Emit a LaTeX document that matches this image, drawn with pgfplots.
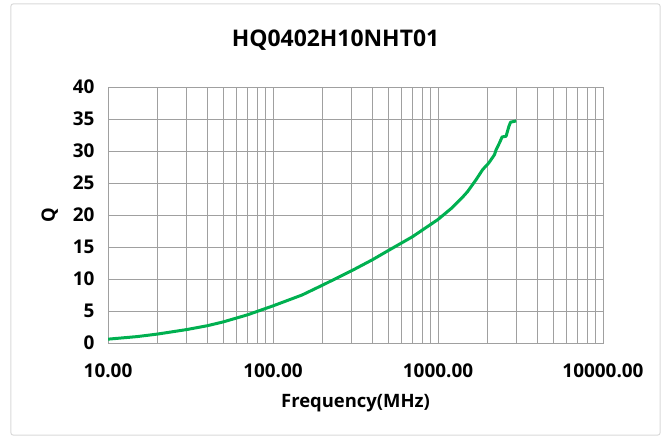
\documentclass[border=0pt]{standalone}
\usepackage{pgfplots}
\pgfplotsset{compat=1.18}
\usepackage{fontspec}
\setmainfont{Open Sans}
\definecolor{exgreen}{RGB}{0,176,80}
\definecolor{gridgray}{RGB}{160,160,160}
\definecolor{framegray}{RGB}{217,217,217}
\begin{document}
\begin{tikzpicture}
\useasboundingbox (-108bp,-93bp) rectangle (561bp,343bp);
\draw[framegray, line width=1bp, rounded corners=2bp] (-97bp,-92bp) rectangle (552bp,339bp);
\begin{axis}[
  at={(0,0)}, anchor=south west,
  scale only axis,
  width=495bp, height=256bp,
  xmode=log, log basis x=10,
  xmin=10, xmax=10000,
  ymin=0, ymax=40,
  xtick={10,100,1000,10000},
  xticklabels={10.00,100.00,1000.00,10000.00},
  minor xtick={20,30,40,50,60,70,80,90,200,300,400,500,600,700,800,900,2000,3000,4000,5000,6000,7000,8000,9000},
  ytick={0,5,10,15,20,25,30,35,40},
  grid=both,
  major grid style={gridgray, line width=0.9bp},
  minor grid style={gridgray, line width=0.9bp},
  axis line style={gridgray, line width=0.9bp},
  tick style={draw=none},
  /pgf/number format/assume math mode=true,
  ticklabel style={font=\fontsize{19}{22}\selectfont\bfseries},
  xticklabel style={yshift=-17bp},
  yticklabel style={xshift=-10bp},
  xlabel={Frequency(MHz)},
  ylabel={Q},
  label style={font=\fontsize{18.5}{22}\selectfont\bfseries},
  xlabel style={yshift=-10bp},
  ylabel style={yshift=8bp},
]
\addplot[exgreen, line width=3bp, line join=round] coordinates {
(10,0.6) (15,1.0) (20,1.4) (30,2.1) (40,2.7) (50,3.3) (70,4.4) (100,5.8)
(150,7.5) (200,9.05) (300,11.3) (400,13.0) (500,14.45) (700,16.6)
(1000,19.3) (1200,21.0) (1400,22.7) (1510,23.65) (1700,25.5) (1866,27.1)
(2027,28.1) (2197,29.4) (2250,30.2) (2301,30.7) (2377,31.45) (2445,32.2)
(2586,32.3) (2686,33.8) (2752,34.5) (2978,34.7)
};
\end{axis}
\node[font=\fontsize{23}{27}\selectfont\bfseries] at (227.5bp,303bp) {HQ0402H10NHT01};
\end{tikzpicture}
\end{document}
